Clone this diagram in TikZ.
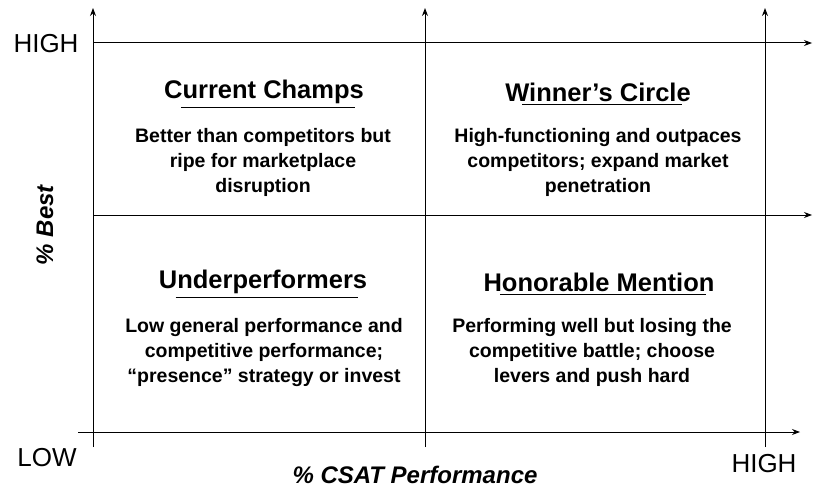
\documentclass[tikz,border=0pt]{standalone}
\usepackage{fontspec}
\setmainfont{Liberation Sans}
\usetikzlibrary{arrows.meta}
\begin{document}
\begin{tikzpicture}[x=1pt,y=-1pt,
  ax/.style={line width=1pt,-{Stealth[length=8pt,width=6pt]}},
  ttl/.style={font=\fontsize{25.5}{30}\selectfont\bfseries,inner sep=1pt},
  bdy/.style={font=\fontsize{19.5}{25}\selectfont\bfseries,align=center},
  lbl/.style={font=\fontsize{26}{30}\selectfont}]
\useasboundingbox (0,0) rectangle (832,495);
\coordinate (h1s) at (93,43); \coordinate (h1e) at (812,43);
\coordinate (h2s) at (93,215); \coordinate (h2e) at (812,215);
\coordinate (h3s) at (78,432); \coordinate (h3e) at (800,432);
\coordinate (v1s) at (93,447); \coordinate (v1e) at (93,8);
\coordinate (v2s) at (425,447); \coordinate (v2e) at (425,8);
\coordinate (v3s) at (765,447); \coordinate (v3e) at (765,8);
\foreach \a in {h1,h2,h3,v1,v2,v3} \draw[ax] (\a s) -- (\a e);
\node[lbl] (hy) at (46,44) {HIGH};
\node[lbl] (lo) at (47,458) {LOW};
\node[lbl] (hx) at (764,464) {HIGH};
\node[font=\fontsize{24}{28}\selectfont\bfseries\itshape,rotate=90] (yl) at (45,225) {\% Best};
\node[font=\fontsize{24}{28}\selectfont\bfseries\itshape] (xl) at (415,475) {\% CSAT Performance};
\node[ttl] (t1) at (264,92) {Current Champs};
\node[ttl] (t2) at (598,92) {Winner’s Circle};
\node[ttl] (t3) at (263,282) {Underperformers};
\node[ttl] (t4) at (599,282) {Honorable Mention};
\foreach \t in {t1,t2,t3,t4}
  \draw[line width=1pt] ([xshift=18pt,yshift=-2pt]\t.south west) -- ([xshift=-10pt,yshift=-2pt]\t.south east);
\node[bdy] (b1) at (263,162) {Better than competitors but\\ripe for marketplace\\disruption};
\node[bdy] (b2) at (598,162) {High-functioning and outpaces\\competitors; expand market\\penetration};
\node[bdy] (b3) at (264,352) {Low general performance and\\competitive performance;\\“presence” strategy or invest};
\node[bdy] (b4) at (592,352) {Performing well but losing the\\competitive battle; choose\\levers and push hard};
\end{tikzpicture}
\end{document}
